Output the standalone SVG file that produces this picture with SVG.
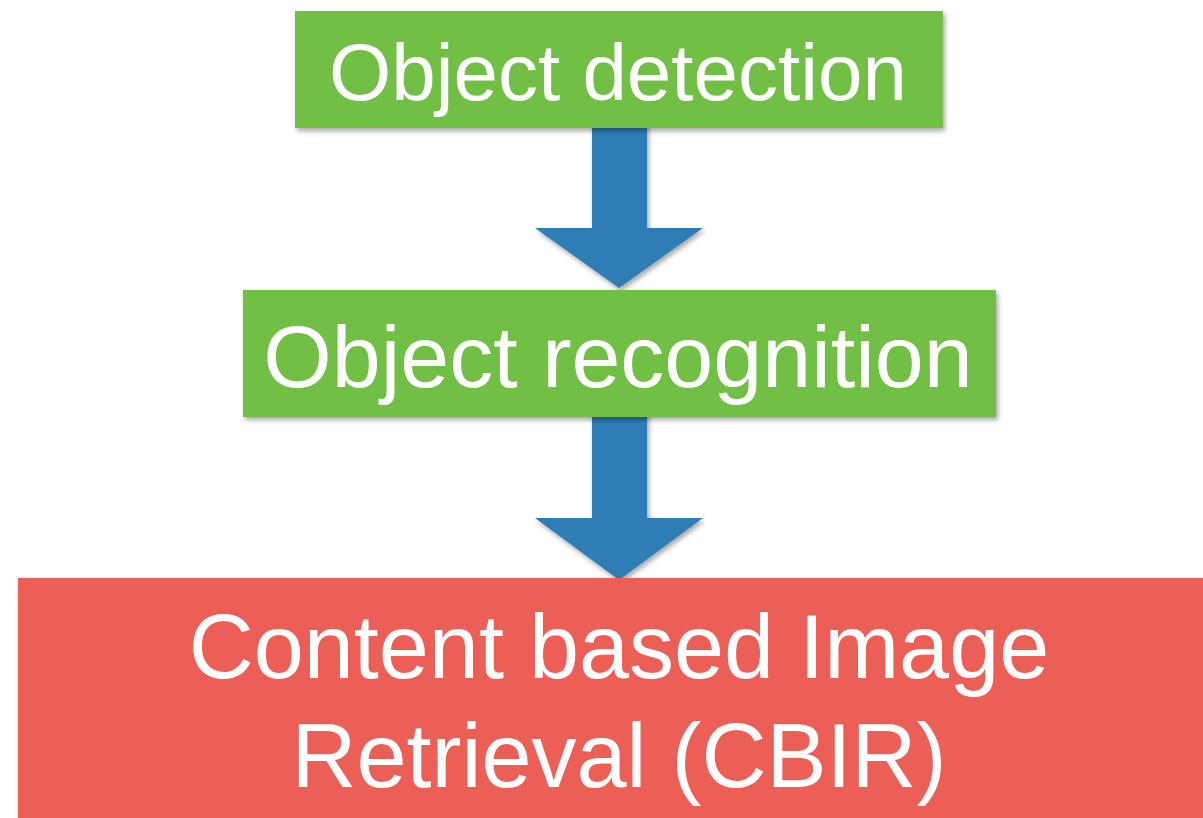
<svg xmlns="http://www.w3.org/2000/svg" width="1203" height="818" viewBox="0 0 1203 818">
<defs>
<style>
.green{fill:#71bf45}
.red{fill:#eb5e57}
.arrow{fill:#2f7db5}
.lbl{font-family:"Liberation Sans",Arial,sans-serif;fill:#ffffff;text-anchor:middle}
</style>
<filter id="sh" x="-10%" y="-10%" width="120%" height="130%">
<feDropShadow dx="2" dy="3" stdDeviation="2.5" flood-color="#000" flood-opacity="0.35"/>
</filter>
</defs>
<rect width="1203" height="818" fill="#ffffff"/>
<g id="connectors">
<polygon class="arrow" filter="url(#sh)" points="592,120 647,120 647,228 703,228 619,288 535,228 592,228"/>
<polygon class="arrow" filter="url(#sh)" points="592,410 647,410 647,518 703,518 619,580 535,518 592,518"/>
</g>
<g id="node-detection">
<rect class="green" filter="url(#sh)" x="295" y="11" width="648" height="117"/>
<text class="lbl" x="618" y="100" font-size="80">Object detection</text>
</g>
<g id="node-recognition">
<rect class="green" filter="url(#sh)" x="243" y="290" width="753" height="127"/>
<text class="lbl" x="618" y="387" font-size="88">Object recognition</text>
</g>
<g id="node-cbir">
<rect class="red" filter="url(#sh)" x="18" y="578" width="1200" height="250"/>
<text class="lbl" x="619" y="678" font-size="90">Content based Image</text>
<text class="lbl" x="619" y="787" font-size="90">Retrieval (CBIR)</text>
</g>
</svg>
